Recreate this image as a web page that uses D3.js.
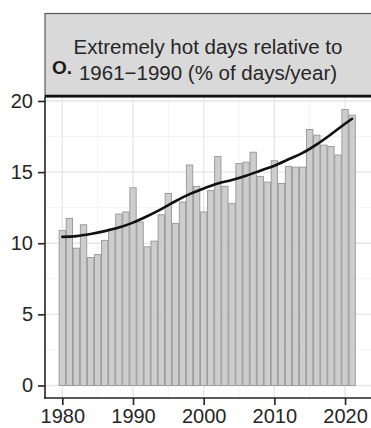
<!DOCTYPE html>
<html>
<head>
<meta charset="utf-8">
<script src="https://cdn.jsdelivr.net/npm/d3@7"></script>
<style>
  html, body { margin: 0; padding: 0; background: #fff; }
  svg { display: block; }
  text { font-family: "Liberation Sans", Arial, sans-serif; }
</style>
</head>
<body>
<script>
// Annual share of extremely hot days, 1980–2021
const years = d3.range(1980, 2022);
const hotDays = [
  10.9, 11.75, 9.65, 11.3, 9.0, 9.2, 10.2, 11.0, 12.05, 12.2,
  13.9, 11.5, 9.75, 10.15, 12.0, 13.5, 11.4, 12.9, 15.5, 14.0,
  12.2, 13.7, 16.1, 14.0, 12.8, 15.6, 15.7, 16.4, 14.7, 14.3,
  15.8, 14.2, 15.4, 15.35, 15.35, 18.0, 17.6, 16.9, 16.8, 16.2,
  19.4, 19.0
];

// Smoothed trend
const trendYears = [1980, 1982, 1984, 1986, 1988, 1990, 1992, 1994, 1996, 1998, 2000,
                    2002, 2004, 2006, 2008, 2010, 2012, 2014, 2016, 2018, 2020, 2021];
const trendValues = [10.45, 10.5, 10.65, 10.85, 11.1, 11.45, 11.9, 12.4, 12.95, 13.45, 13.85,
                     14.2, 14.45, 14.75, 15.1, 15.45, 15.9, 16.35, 16.95, 17.65, 18.4, 18.75];

const yTicks = [0, 5, 10, 15, 20];
const yMinor = [2.5, 7.5, 12.5, 17.5];
const xTicks = [1980, 1990, 2000, 2010, 2020];
const xMinor = [1985, 1995, 2005, 2015];

const titleLines = ["Extremely hot days relative to", "1961\u22121990 (% of days/year)"];
const panelLabel = "O.";

const W = 371, H = 428;
const panel = { left: 45, right: 371, top: 97, bottom: 398 };

const svg = d3.select("body").append("svg")
  .attr("width", W).attr("height", H);

const x = d3.scaleLinear().domain([1977.55, 2023.67]).range([panel.left, panel.right]);
const y = d3.scaleLinear().domain([-0.88, 20.28]).range([panel.bottom, panel.top]);

// grid
const grid = svg.append("g");
grid.selectAll("line.ymin").data(yMinor).join("line")
  .attr("x1", panel.left).attr("x2", panel.right)
  .attr("y1", d => y(d)).attr("y2", d => y(d))
  .attr("stroke", "#f3f3f3").attr("stroke-width", 1);
grid.selectAll("line.xmin").data(xMinor).join("line")
  .attr("y1", panel.top).attr("y2", panel.bottom)
  .attr("x1", d => x(d)).attr("x2", d => x(d))
  .attr("stroke", "#f3f3f3").attr("stroke-width", 1);
grid.selectAll("line.ymaj").data(yTicks).join("line")
  .attr("x1", panel.left).attr("x2", panel.right)
  .attr("y1", d => y(d)).attr("y2", d => y(d))
  .attr("stroke", "#e6e6e6").attr("stroke-width", 1.3);
grid.selectAll("line.xmaj").data(xTicks).join("line")
  .attr("y1", panel.top).attr("y2", panel.bottom)
  .attr("x1", d => x(d)).attr("x2", d => x(d))
  .attr("stroke", "#e6e6e6").attr("stroke-width", 1.3);

// bars
const bw = (x(1) - x(0)) * 0.9;
svg.append("g").selectAll("rect").data(years).join("rect")
  .attr("x", (d) => x(d) - bw / 2)
  .attr("width", bw)
  .attr("y", (d, i) => y(hotDays[i]))
  .attr("height", (d, i) => y(0) - y(hotDays[i]))
  .attr("fill", "#cdcdcd")
  .attr("stroke", "#969696")
  .attr("stroke-width", 0.9);

// trend line
const line = d3.line()
  .x((d, i) => x(trendYears[i]))
  .y(d => y(d))
  .curve(d3.curveMonotoneX);
svg.append("path").datum(trendValues)
  .attr("d", line)
  .attr("fill", "none")
  .attr("stroke", "#111")
  .attr("stroke-width", 2.6)
  .attr("stroke-linecap", "round");

// axes
const yAxis = d3.axisLeft(y).tickValues(yTicks).tickSize(7).tickPadding(5);
const gy = svg.append("g").attr("transform", `translate(${panel.left},0)`).call(yAxis);
gy.select(".domain").remove();
gy.selectAll(".tick line").attr("stroke", "#222").attr("stroke-width", 1.6);
gy.selectAll(".tick text").attr("fill", "#262626").style("font-size", "20px")
  .style("font-family", "'Liberation Sans', Arial, sans-serif");

const xAxis = d3.axisBottom(x).tickValues(xTicks).tickFormat(d3.format("d")).tickSize(7).tickPadding(4);
const gx = svg.append("g").attr("transform", `translate(0,${panel.bottom})`).call(xAxis);
gx.select(".domain").remove();
gx.selectAll(".tick line").attr("stroke", "#222").attr("stroke-width", 1.6);
gx.selectAll(".tick text").attr("fill", "#262626").style("font-size", "20px")
  .style("font-family", "'Liberation Sans', Arial, sans-serif");

svg.append("line")
  .attr("x1", panel.left).attr("x2", panel.left)
  .attr("y1", panel.top).attr("y2", panel.bottom + 0.8)
  .attr("stroke", "#222").attr("stroke-width", 1.6);
svg.append("line")
  .attr("x1", panel.left - 0.8).attr("x2", panel.right)
  .attr("y1", panel.bottom).attr("y2", panel.bottom)
  .attr("stroke", "#222").attr("stroke-width", 1.6);

// strip
const strip = svg.append("g");
strip.append("rect")
  .attr("x", panel.left).attr("y", 13.5)
  .attr("width", W - panel.left + 5).attr("height", panel.top - 13.5)
  .attr("fill", "#d9d9d9").attr("stroke", "#5a5a5a").attr("stroke-width", 1.2);
strip.append("line")
  .attr("x1", panel.left).attr("x2", W)
  .attr("y1", panel.top - 1).attr("y2", panel.top - 1)
  .attr("stroke", "#111").attr("stroke-width", 2.4);

strip.selectAll("text.t").data(titleLines).join("text")
  .attr("x", 208)
  .attr("y", (d, i) => 54 + i * 25.5)
  .attr("text-anchor", "middle")
  .attr("fill", "#262626")
  .style("font-size", "20.5px")
  .text(d => d);

strip.append("text")
  .attr("x", 52).attr("y", 74)
  .attr("fill", "#1a1a1a")
  .style("font-size", "19px")
  .style("font-weight", "bold")
  .text(panelLabel);
</script>
</body>
</html>
